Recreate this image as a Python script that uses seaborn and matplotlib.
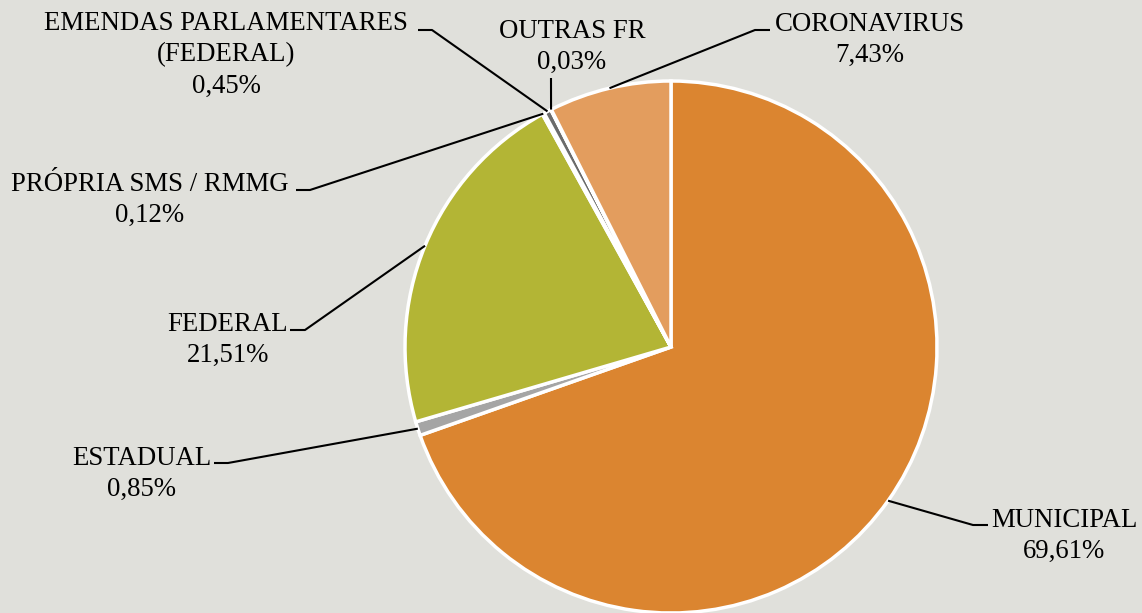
import numpy as np
import matplotlib
matplotlib.use("Agg")
import matplotlib.pyplot as plt
import seaborn as sns

# ====================== Data ======================
categories = ["MUNICIPAL", "ESTADUAL", "FEDERAL", "PRÓPRIA SMS / RMMG",
              "EMENDAS PARLAMENTARES\n(FEDERAL)", "OUTRAS FR", "CORONAVIRUS"]
shares = [69.61, 0.85, 21.51, 0.12, 0.45, 0.03, 7.43]
colors = ["#DB8530", "#A5A5A5", "#B3B535", "#5F5F5F", "#6B6B6B", "#8A8A8A", "#E39D5E"]

# label layout (pixel coords, y down): text centre, elbow, line end next to text
label_pos = [(1064, 536), (142, 474), (228, 340), (150, 200), (226, 55), (572, 47), (870, 40)]
elbows = [(973, 525), (228, 463), (305, 330), (310, 190), (432, 30), (551, 80), (755, 30)]
line_ends = [(988, 525), (214, 463), (290, 330), (296, 190), (418, 30), (551, 78), (770, 30)]

# ====================== Canvas ======================
sns.set_style("white")
plt.rcParams["font.family"] = ["Liberation Serif", "DejaVu Serif"]
W, H = 1142, 613
bg = "#E0E0DB"
fig = plt.figure(figsize=(W / 100, H / 100), dpi=100, facecolor=bg)
ax = fig.add_axes([0, 0, 1, 1])
ax.set_facecolor(bg)

cx, cy, r = 671, H - 347, 266
wedges, _ = ax.pie(shares, colors=colors, startangle=90, counterclock=False,
                   center=(cx, cy), radius=r,
                   wedgeprops=dict(edgecolor="white", linewidth=2.5))

# ====================== Labels & leader lines ======================
for w, name, v, (tx, ty), (ex, ey), (lx, ly) in zip(wedges, categories, shares,
                                                    label_pos, elbows, line_ends):
    mid = np.deg2rad((w.theta1 + w.theta2) / 2)
    px, py = cx + r * np.cos(mid), cy + r * np.sin(mid)
    ax.plot([px, ex, lx], [py, H - ey, H - ly], color="black", lw=1.5,
            solid_capstyle="butt", zorder=3)
    txt = f"{name}\n{v:.2f}".replace(".", ",") + "%"
    ax.text(tx, H - ty, txt, ha="center", va="center", fontsize=19.3,
            linespacing=1.32, color="black")

ax.set_xlim(0, W)
ax.set_ylim(0, H)
ax.set_aspect("equal")
ax.axis("off")

fig.savefig("out.png", dpi=100, facecolor=bg)
